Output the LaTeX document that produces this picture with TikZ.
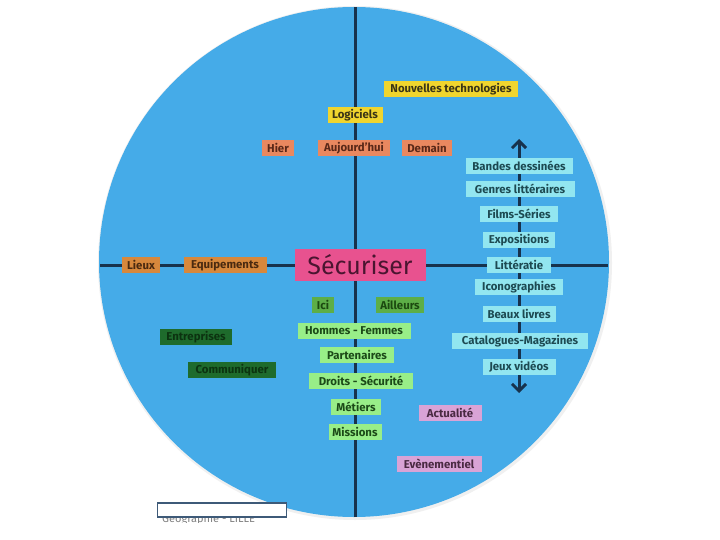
\documentclass[tikz,border=0pt]{standalone}
\usepackage{fontspec}
\setmainfont{Fira Sans}
\usetikzlibrary{arrows.meta}
\pgfdeclarelayer{background}
\pgfsetlayers{background,main}
\definecolor{disc}{HTML}{45ABE8}
\definecolor{axis}{HTML}{17324D}
\definecolor{yel}{HTML}{F0D52E}
\definecolor{yeltx}{HTML}{3A3516}
\definecolor{sal}{HTML}{E9885F}
\definecolor{saltx}{HTML}{5A2818}
\definecolor{ora}{HTML}{D7883C}
\definecolor{oratx}{HTML}{4A2A10}
\definecolor{cya}{HTML}{92E6F0}
\definecolor{cyatx}{HTML}{1D4A52}
\definecolor{pnk}{HTML}{E8528F}
\definecolor{pnktx}{HTML}{4A1530}
\definecolor{mgr}{HTML}{5DAE47}
\definecolor{mgrtx}{HTML}{1C4A10}
\definecolor{lgr}{HTML}{98EE88}
\definecolor{lgrtx}{HTML}{1C4A18}
\definecolor{dgr}{HTML}{1E6B2C}
\definecolor{dgrtx}{HTML}{0C3310}
\definecolor{lav}{HTML}{D9A3D6}
\definecolor{lavtx}{HTML}{4A2A42}
\definecolor{frame}{HTML}{3E5A78}
\tikzset{
  lbl/.style={inner sep=0pt, minimum height=16.5pt, font=\bfseries\fontsize{11.4}{12}\selectfont},
  yelbox/.style={lbl, fill=yel, text=yeltx},
  salbox/.style={lbl, fill=sal, text=saltx},
  orabox/.style={lbl, fill=ora, text=oratx},
  cyabox/.style={lbl, fill=cya, text=cyatx},
  mgrbox/.style={lbl, fill=mgr, text=mgrtx},
  lgrbox/.style={lbl, fill=lgr, text=lgrtx},
  dgrbox/.style={lbl, fill=dgr, text=dgrtx},
  lavbox/.style={lbl, fill=lav, text=lavtx},
  axisline/.style={draw=axis, line width=3pt},
  colline/.style={draw=axis, line width=3pt},
  arrowtip/.style={-{Straight Barb[length=7pt,width=14pt,line width=3pt]}}
}
\begin{document}
\begin{tikzpicture}[x=1pt,y=-1pt]
\useasboundingbox (0,0) rectangle (720,540);
% axis end points
\coordinate (vtop) at (355,7);
\coordinate (vbot) at (355,517);
\coordinate (hleft) at (100,265);
\coordinate (hright) at (608,265);
\coordinate (coltop) at (519,139);
\coordinate (colbot) at (519,393);
% nodes
\node[yelbox, minimum width=134pt] (nt) at (451,89) {Nouvelles technologies};
\node[yelbox, minimum width=55pt] (log) at (355,115) {Logiciels};
\node[salbox, minimum width=32pt] (hier) at (278,148) {Hier};
\node[salbox, minimum width=72pt] (auj) at (354,148) {Aujourd'hui};
\node[salbox, minimum width=50pt] (dem) at (427,148) {Demain};
\node[cyabox, minimum width=107pt] (bd) at (519,166) {Bandes dessinées};
\node[cyabox, minimum width=109pt] (gl) at (520,189) {Genres littéraires};
\node[cyabox, minimum width=78pt] (fs) at (519,214) {Films-Séries};
\node[cyabox, minimum width=72pt] (ex) at (519,240) {Expositions};
\node[cyabox, minimum width=64pt] (lit) at (519,265) {Littératie};
\node[cyabox, minimum width=88pt] (ico) at (519,287) {Iconographies};
\node[cyabox, minimum width=73pt] (bl) at (519,314) {Beaux livres};
\node[cyabox, minimum width=136pt] (cm) at (520,341) {Catalogues-Magazines};
\node[cyabox, minimum width=73pt] (jv) at (519,367) {Jeux vidéos};
\node[fill=pnk, text=pnktx, inner sep=0pt, minimum width=131pt, minimum height=32pt,
      font=\fontsize{25}{26}\selectfont] (sec) at (360,265) {Sécuriser};
\node[orabox, minimum width=38pt] (lieux) at (141,265) {Lieux};
\node[orabox, minimum width=83pt] (equ) at (225,265) {Equipements};
\node[mgrbox, minimum width=22pt] (ici) at (323,305) {Ici};
\node[mgrbox, minimum width=48pt] (ail) at (400,305) {Ailleurs};
\node[lgrbox, minimum width=113pt] (hf) at (354,331) {Hommes - Femmes};
\node[lgrbox, minimum width=74pt] (par) at (357,355) {Partenaires};
\node[lgrbox, minimum width=104pt] (ds) at (361,381) {Droits - Sécurité};
\node[lgrbox, minimum width=50pt] (met) at (356,407) {Métiers};
\node[lgrbox, minimum width=53pt] (mis) at (355,432) {Missions};
\node[dgrbox, minimum width=72pt] (ent) at (196,337) {Entreprises};
\node[dgrbox, minimum width=88pt] (com) at (232,370) {Communiquer};
\node[lavbox, minimum width=63pt] (act) at (450,413) {Actualité};
\node[lavbox, minimum width=85pt] (eve) at (439,464) {Evènementiel};
% disc and lines behind
\begin{pgfonlayer}{background}
\fill[white] (0,0) rectangle (720,540);
\fill[black!6] (355,263) circle (257);
\fill[disc] (354,262) circle (255);
\draw[axisline] (vtop) -- (vbot);
\draw[axisline] (hleft) -- (hright);
\draw[colline, arrowtip] (lit.center) -- (coltop);
\draw[colline, arrowtip] (lit.center) -- (colbot);
\end{pgfonlayer}
% caption partly hidden
\begin{scope}
\clip (150,517.5) rectangle (300,522.5);
\node[text=black!50, font=\fontsize{11}{11}\selectfont, anchor=north west, inner sep=0pt] (cap) at (162,513) {Géographie - LILLE};
\end{scope}
\node[draw=frame, line width=1.5pt, fill=white, minimum width=129pt, minimum height=14pt, inner sep=0pt] (capbox) at (222,510) {};
\end{tikzpicture}
\end{document}
